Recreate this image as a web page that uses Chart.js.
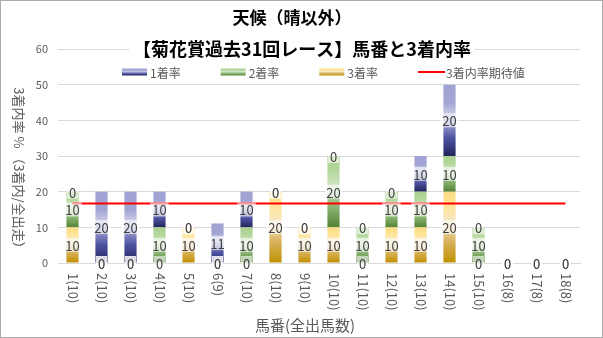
<!DOCTYPE html>
<html>
<head>
<meta charset="utf-8">
<script src="https://cdn.jsdelivr.net/npm/chart.js@4/dist/chart.umd.min.js"></script>
<style>
  body { margin: 0; background: #fff; }
  #wrap { width: 603px; height: 338px; border: 1px solid #ababab; box-sizing: border-box; background: #fff; }
  canvas { display: block; }
</style>
</head>
<body>
<div id="wrap"><canvas id="chart" width="601" height="336"></canvas></div>
<script>
const FONT = '"Noto Sans CJK JP", "Noto Sans", sans-serif';

const mainTitle = '天候（晴以外）';
const subTitle = '【菊花賞過去31回レース】馬番と3着内率';
const xTitle = '馬番(全出馬数)';
const yTitle = '3着内率 % （3着内/全出走）';

// 馬番(全出馬数)
const horseNos = ['1(10)', '2(10)', '3(10)', '4(10)', '5(10)', '6(9)', '7(10)', '8(10)', '9(10)',
  '10(10)', '11(10)', '12(10)', '13(10)', '14(10)', '15(10)', '16(8)', '17(8)', '18(8)'];

// rates in %
const rate1 = [0, 20, 20, 10, 0, 11.1, 10, 0, 0, 0, 0, 0, 10, 20, 0, 0, 0, 0];
const rate2 = [10, 0, 0, 10, 0, 0, 10, 0, 0, 20, 10, 10, 10, 10, 10, 0, 0, 0];
const rate3 = [10, 0, 0, 0, 10, 0, 0, 20, 10, 10, 0, 10, 10, 20, 0, 0, 0, 0];
const expected = [16.7, 16.7, 16.7, 16.7, 16.7, 16.7, 16.7, 16.7, 16.7,
  16.7, 16.7, 16.7, 16.7, 16.7, 16.7, 16.7, 16.7, 16.7];

const yTicks = { min: 0, max: 60, step: 10 };

// gradient stops, bottom -> top of each segment
const goldStops = [[0, '#bf9000'], [0.3, '#d8b25c'], [0.55, '#f4e6ca'], [0.8, '#ffe699'], [1, '#fbdb82']];
const greenStops = [[0, '#548235'], [0.3, '#8db776'], [0.55, '#d3e6c9'], [0.8, '#b2d69b'], [1, '#a9d18e']];
const blueStops = [[0, '#22245a'], [0.25, '#4c51a0'], [0.45, '#9a9dcf'], [0.6, '#c8c9e4'], [0.75, '#a2a5d4'], [1, '#a0a3d3']];
const stopsByDataset = [goldStops, greenStops, blueStops];
const solidFill = ['#d6b04c', '#7dae5f', '#7174b8'];

function makeGradient(ctx, stops, yBottom, yTop) {
  const g = ctx.createLinearGradient(0, yBottom, 0, yTop);
  stops.forEach(s => g.addColorStop(s[0], s[1]));
  return g;
}

function segmentFill(di) {
  return (c) => {
    const chart = c.chart;
    if (c.type !== 'data' || !chart.chartArea) return solidFill[di];
    const ds = chart.data.datasets;
    let base = 0;
    for (let k = 0; k < c.datasetIndex; k++) base += ds[k].data[c.dataIndex];
    const v = ds[c.datasetIndex].data[c.dataIndex];
    if (!v) return solidFill[di];
    const y = chart.scales.y;
    return makeGradient(chart.ctx, stopsByDataset[di], y.getPixelForValue(base), y.getPixelForValue(base + v));
  };
}

const textPlugin = {
  id: 'chartText',
  afterDatasetsDraw(chart) {
    const ctx = chart.ctx;
    ctx.save();
    ctx.font = '13px ' + FONT;
    ctx.textAlign = 'center';
    ctx.textBaseline = 'middle';
    [0, 1, 2].forEach(di => {
      const meta = chart.getDatasetMeta(di);
      meta.data.forEach((bar, i) => {
        const txt = String(Math.round(chart.data.datasets[di].data[i]));
        const cy = (bar.y + bar.base) / 2;
        const w = ctx.measureText(txt).width + 4;
        ctx.fillStyle = 'rgba(255,255,255,0.6)';
        ctx.fillRect(bar.x - w / 2, cy - 7, w, 14);
        ctx.fillStyle = '#404040';
        ctx.fillText(txt, bar.x, cy + 1);
      });
    });
    ctx.restore();
  },
  afterDraw(chart) {
    const ctx = chart.ctx;
    const area = chart.chartArea;
    ctx.save();
    ctx.textAlign = 'center';
    ctx.textBaseline = 'middle';

    // titles
    ctx.fillStyle = '#000';
    ctx.font = 'bold 17px ' + FONT;
    ctx.fillText(mainTitle, 291, 17);
    ctx.font = 'bold 18px ' + FONT;
    const sw = ctx.measureText(subTitle).width;
    ctx.fillStyle = '#fff';
    ctx.fillRect(301 - sw / 2 - 4, 38, sw + 8, 20);
    ctx.fillStyle = '#000';
    ctx.fillText(subTitle, 301, 48);

    // legend: 1着率, 2着率, 3着率, 期待値
    ctx.font = '12px ' + FONT;
    ctx.textAlign = 'left';
    let lx = 121;
    const ly = 71;
    [2, 1, 0, 3].forEach(di => {
      const ds = chart.data.datasets[di];
      if (di === 3) {
        ctx.strokeStyle = ds.borderColor;
        ctx.lineWidth = 2;
        ctx.beginPath();
        ctx.moveTo(lx, ly);
        ctx.lineTo(lx + 27, ly);
        ctx.stroke();
      } else {
        ctx.fillStyle = makeGradient(ctx, stopsByDataset[di], ly + 3.5, ly - 3.5);
        ctx.fillRect(lx, ly - 3.5, 25, 7);
      }
      ctx.fillStyle = '#595959';
      ctx.fillText(ds.label, lx + 28, ly + 1);
      lx += 28 + ctx.measureText(ds.label).width + 40;
    });

    // y axis title, reads top to bottom
    ctx.textAlign = 'center';
    ctx.fillStyle = '#595959';
    ctx.font = '13px ' + FONT;
    ctx.save();
    ctx.translate(18, 170);
    ctx.rotate(Math.PI / 2);
    ctx.fillText(yTitle, 0, 0);
    ctx.restore();

    // x tick labels, rotated clockwise
    const xs = chart.scales.x;
    ctx.textAlign = 'left';
    chart.data.labels.forEach((lab, i) => {
      ctx.save();
      ctx.translate(xs.getPixelForValue(i), area.bottom + 10);
      ctx.rotate(Math.PI / 2);
      ctx.fillText(lab, 0, 0);
      ctx.restore();
    });

    // x axis title
    ctx.textAlign = 'center';
    ctx.font = '15px ' + FONT;
    ctx.fillText(xTitle, 304, 324);
    ctx.restore();
  }
};

new Chart(document.getElementById('chart'), {
  type: 'bar',
  data: {
    labels: horseNos,
    datasets: [
      { label: '3着率', data: rate3, backgroundColor: segmentFill(0), order: 1 },
      { label: '2着率', data: rate2, backgroundColor: segmentFill(1), order: 1 },
      { label: '1着率', data: rate1, backgroundColor: segmentFill(2), order: 1 },
      {
        type: 'line', label: '3着内率期待値', data: expected, stack: 'exp', order: 0,
        borderColor: '#ff0000', backgroundColor: '#ff0000', borderWidth: 2,
        pointRadius: 0, fill: false
      }
    ]
  },
  options: {
    responsive: false,
    animation: false,
    datasets: { bar: { barPercentage: 0.42, categoryPercentage: 1 } },
    layout: { padding: { top: 48, left: 33, right: 22, bottom: 4 } },
    scales: {
      x: {
        stacked: true,
        grid: { display: false, drawTicks: false },
        border: { color: '#d9d9d9' },
        ticks: { display: false },
        afterFit: (s) => { s.height = 70; }
      },
      y: {
        stacked: true,
        min: yTicks.min,
        max: yTicks.max,
        grid: { color: '#d9d9d9', drawTicks: false },
        border: { display: false },
        ticks: { stepSize: yTicks.step, padding: 10, color: '#595959', font: { size: 11, family: FONT } },
        afterFit: (s) => { s.width = 24; }
      }
    },
    plugins: {
      tooltip: { enabled: false },
      title: { display: false },
      legend: { display: false }
    }
  },
  plugins: [textPlugin]
});
</script>
</body>
</html>
